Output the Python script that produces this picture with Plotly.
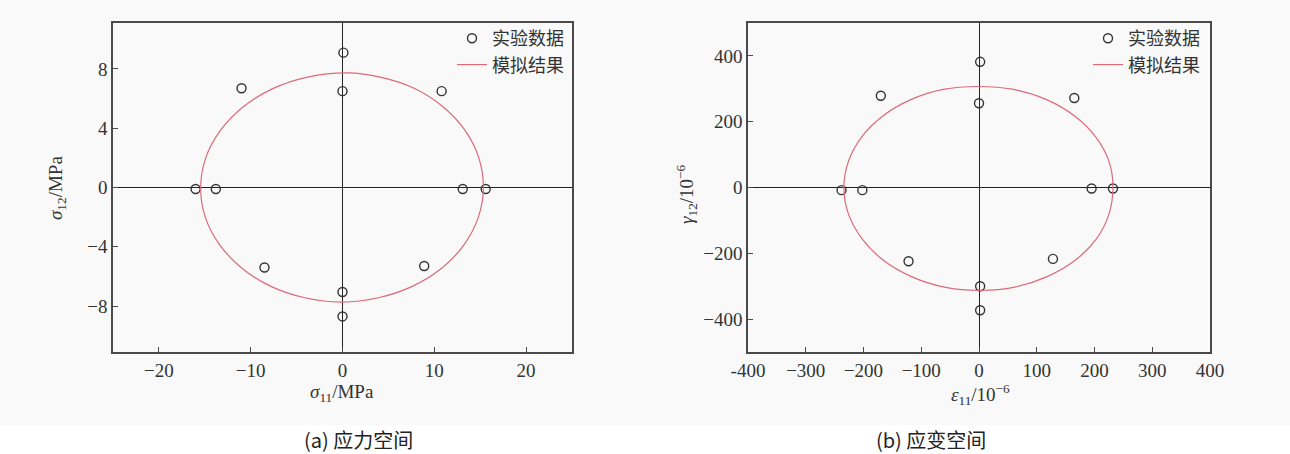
import plotly.graph_objects as go

# ---------------- data ----------------
# (a) stress space, MPa
stress_exp_s11 = [0.1, 0.0, -11.0, 10.8, -16.0, -13.8, 13.1, 15.6, -8.5, 8.9, 0.0, 0.0]
stress_exp_s12 = [9.1, 6.5, 6.7, 6.5, -0.1, -0.1, -0.1, -0.1, -5.4, -5.3, -7.05, -8.7]

stress_sim_s11 = [15.35, 14.85, 13.35, 10.95, 7.8, 4.1, 0.6, -3.8, -7.6, -10.8, -13.3, -14.9, -15.45,
                  -14.95, -13.4, -10.95, -7.8, -4.1, -0.1, 3.9, 7.6, 10.8, 13.25, 14.8, 15.35]
stress_sim_s12 = [0.0, 2.0, 3.85, 5.45, 6.7, 7.45, 7.73, 7.45, 6.67, 5.45, 3.85, 2.0, 0.0,
                  -2.0, -3.85, -5.45, -6.67, -7.44, -7.73, -7.44, -6.67, -5.45, -3.85, -2.0, 0.0]

# (b) strain space, 1e-6
strain_exp_e11 = [2, 0, -170, 165, -238, -202, 195, 232, -122, 128, 2, 2]
strain_exp_g12 = [382, 256, 279, 272, -8, -8, -3, -3, -224, -217, -300, -373]

strain_sim_e11 = [232, 225, 202, 165, 117, 60, -2, -62, -118, -166, -203, -226, -234,
                  -226, -202, -165, -117, -60, 2, 62, 118, 166, 203, 225, 232]
strain_sim_g12 = [0, 80, 154, 218, 267, 298, 307, 298, 267, 218, 154, 80, 0,
                  -81, -157, -222, -271, -303, -313, -303, -271, -222, -157, -81, 0]

stress_x_ticks = [-20, -10, 0, 10, 20]
stress_x_text = ["−20", "−10", "0", "10", "20"]
stress_y_ticks = [-8, -4, 0, 4, 8]
stress_y_text = ["−8", "−4", "0", "4", "8"]
strain_x_ticks = [-400, -300, -200, -100, 0, 100, 200, 300, 400]
strain_x_text = ["-400", "−300", "−200", "−100", "0", "100", "200", "300", "400"]
strain_y_ticks = [-400, -200, 0, 200, 400]
strain_y_text = ["−400", "−200", "0", "200", "400"]

legend_exp = "实验数据"
legend_sim = "模拟结果"
caption_a = "(a) 应力空间"
caption_b = "(b) 应变空间"

# ---------------- figure ----------------
W, H = 1290, 454
SERIF = "Liberation Serif, Times New Roman, serif"
CJK = "Noto Sans CJK SC"
TXT = "#333333"
RED = "#dc6a7a"

def px_x(p):
    return p / W

def px_y(p):
    return (H - p) / H

fig = go.Figure()

marker_style = dict(symbol="circle-open", size=9, color="#333333", line=dict(width=1.4, color="#333333"))

fig.add_trace(go.Scatter(x=stress_exp_s11, y=stress_exp_s12, mode="markers", marker=marker_style,
                         name=legend_exp, xaxis="x", yaxis="y", legend="legend"))
fig.add_trace(go.Scatter(x=stress_sim_s11, y=stress_sim_s12, mode="lines", line=dict(color=RED, width=1.2, shape="spline"),
                         name=legend_sim, xaxis="x", yaxis="y", legend="legend"))
fig.add_trace(go.Scatter(x=strain_exp_e11, y=strain_exp_g12, mode="markers", marker=marker_style,
                         name=legend_exp, xaxis="x2", yaxis="y2", legend="legend2"))
fig.add_trace(go.Scatter(x=strain_sim_e11, y=strain_sim_g12, mode="lines", line=dict(color=RED, width=1.2, shape="spline"),
                         name=legend_sim, xaxis="x2", yaxis="y2", legend="legend2"))

ydom = [px_y(352), px_y(23)]

def axis_common():
    return dict(
        showline=True, mirror=True, linecolor="#4a4a4a", linewidth=1.5,
        ticks="inside", ticklen=5, tickwidth=1.2, tickcolor="#4a4a4a",
        showgrid=False, zeroline=True, zerolinecolor="#222222", zerolinewidth=1.2,
        tickfont=dict(family=SERIF, size=19, color=TXT),
        fixedrange=True, automargin=False,
    )

fig.update_layout(
    width=W, height=H,
    margin=dict(l=0, r=0, t=0, b=0, pad=0),
    paper_bgcolor="white",
    plot_bgcolor="rgba(0,0,0,0)",
    xaxis=dict(domain=[px_x(113), px_x(572)], range=[-25, 25], anchor="y",
               tickmode="array", tickvals=stress_x_ticks, ticktext=stress_x_text, **axis_common()),
    yaxis=dict(domain=ydom, range=[-11.1, 11.1], anchor="x",
               tickmode="array", tickvals=stress_y_ticks, ticktext=stress_y_text, **axis_common()),
    xaxis2=dict(domain=[px_x(748), px_x(1210)], range=[-400, 400], anchor="y2",
                tickmode="array", tickvals=strain_x_ticks, ticktext=strain_x_text, **axis_common()),
    yaxis2=dict(domain=ydom, range=[-500, 500], anchor="x2",
                tickmode="array", tickvals=strain_y_ticks, ticktext=strain_y_text, **axis_common()),
    legend=dict(x=px_x(569), y=px_y(20), xanchor="right", yanchor="top",
                bgcolor="rgba(0,0,0,0)", font=dict(family=CJK, size=18, color=TXT),
                itemwidth=30, tracegroupgap=0),
    legend2=dict(x=px_x(1205), y=px_y(20), xanchor="right", yanchor="top",
                 bgcolor="rgba(0,0,0,0)", font=dict(family=CJK, size=18, color=TXT),
                 itemwidth=30, tracegroupgap=0),
    shapes=[dict(type="rect", xref="paper", yref="paper", x0=0, x1=1, y0=px_y(425), y1=1,
                 fillcolor="#f9f9f9", line=dict(width=0), layer="below")],
    showlegend=True,
)

ann_font = dict(family=SERIF, size=19, color=TXT)
def add_text(text, xp, yp, font, angle=0):
    fig.add_annotation(text=text, xref="paper", yref="paper", x=px_x(xp), y=px_y(yp),
                       xanchor="center", yanchor="middle", showarrow=False, font=font,
                       textangle=angle)

add_text("<i>σ</i><sub>11</sub>/MPa", 342, 393, ann_font)
add_text("<i>σ</i><sub>12</sub>/MPa", 57, 188, ann_font, -90)
add_text("<i>ε</i><sub>11</sub>/10<sup>−6</sup>", 980, 394, ann_font)
add_text("<i>γ</i><sub>12</sub>/10<sup>−6</sup>", 686, 194, ann_font, -90)

cap_font = dict(family=CJK, size=20, color="#222222")
add_text(caption_a, 358, 439, cap_font)
add_text(caption_b, 931, 439, cap_font)

fig.write_html("out.html", config={"displayModeBar": False},
               post_script="document.body.style.margin='0';document.body.style.overflow='hidden';")
